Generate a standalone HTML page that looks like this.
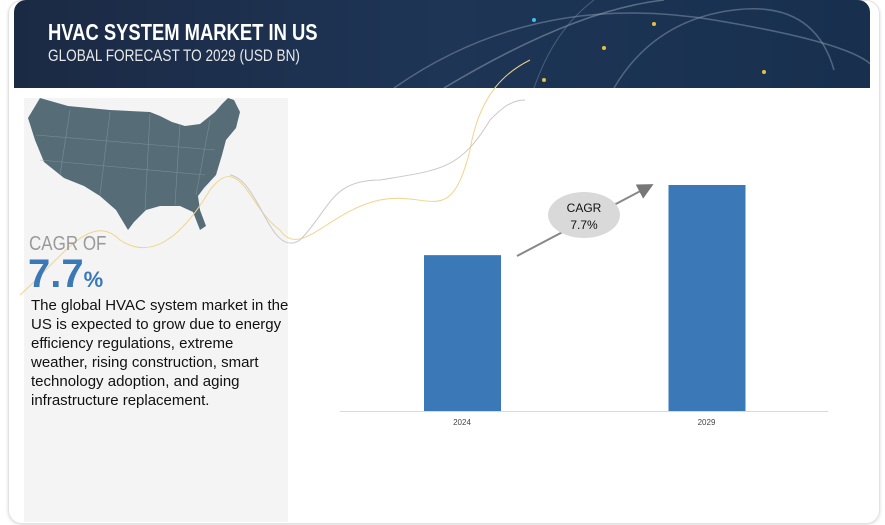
<!DOCTYPE html>
<html><head><meta charset="utf-8"><style>
body{margin:0;width:885px;height:525px;background:#fff;font-family:"Liberation Sans",sans-serif;overflow:hidden;position:relative}
.card{position:absolute;left:8px;top:0;width:870px;height:522px;border:1px solid #e2e2e2;border-radius:14px;box-shadow:0 1px 3px rgba(0,0,0,.15)}
.hdr{position:absolute;left:14px;top:0;width:856px;height:88px;border-radius:12px 12px 0 0;background:linear-gradient(90deg,#1b2a44,#1e3556 50%,#18304e);overflow:hidden}
.t1{position:absolute;left:34px;top:19px;color:#fff;font:bold 23px "Liberation Sans Narrow","Liberation Sans",sans-serif;transform:scaleX(.8);transform-origin:left}
.t2{position:absolute;left:34px;top:46px;color:#e8e8e8;font:17px "Liberation Sans Narrow","Liberation Sans",sans-serif;transform:scaleX(.8);transform-origin:left}
.panel{position:absolute;left:24px;top:98px;width:264px;height:424px;background:#f4f4f4}
.cagr{position:absolute;left:29px;top:233px;color:#9a9a9a;font:20px "Liberation Sans",sans-serif;transform:scaleX(.85);transform-origin:left}
.big{position:absolute;left:28px;top:252px;color:#3a78b8;font:bold 40px "Liberation Sans",sans-serif}
.big span{font-size:22px}
.desc{position:absolute;left:31px;top:296px;width:300px;white-space:nowrap;color:#111;font:15px/19px "Liberation Sans",sans-serif}
</style></head><body>
<div class="card"></div>
<div class="hdr">
<svg width="856" height="88" style="position:absolute;left:0;top:0">
<path d="M380 88 Q520 -10 700 20 T860 80" stroke="#8a9ab0" stroke-width="1.5" fill="none" opacity=".5"/>
<path d="M430 88 Q560 10 650 0" stroke="#9aa8bb" stroke-width="1.5" fill="none" opacity=".5"/>
<path d="M600 88 Q640 20 720 10 T820 70" stroke="#8a9ab0" stroke-width="1.5" fill="none" opacity=".5"/>
<path d="M520 88 Q540 30 580 0" stroke="#7a8aa0" stroke-width="1" fill="none" opacity=".5"/>
<circle cx="530" cy="80" r="2" fill="#e8c040"/><circle cx="590" cy="48" r="2" fill="#e8c040"/><circle cx="640" cy="24" r="2" fill="#e8c040"/><circle cx="750" cy="72" r="2" fill="#e8c040"/><circle cx="520" cy="20" r="2" fill="#40c0f0"/>
</svg>
<div class="t1">HVAC SYSTEM MARKET IN US</div>
<div class="t2">GLOBAL FORECAST TO 2029 (USD BN)</div>
</div>
<div class="panel"></div>
<svg width="885" height="525" style="position:absolute;left:0;top:0">
<path d="M40 98 L68 106 L110 110 L150 112 L160 116 L172 122 L185 126 L200 124 L215 112 L222 104 L228 98 L234 100 L240 112 L236 128 L226 140 L222 155 L216 175 L204 188 L198 196 L200 210 L206 226 L200 230 L193 212 L180 206 L160 206 L146 210 L134 222 L128 230 L116 210 L100 196 L84 186 L64 178 L44 162 L35 140 L28 118 Z" fill="#566d78"/>
<g stroke="#8a9ca4" stroke-width=".6" fill="none" opacity=".7">
<path d="M36 135 L215 150"/><path d="M40 160 L205 175"/><path d="M70 110 L60 175"/><path d="M110 112 L100 195"/><path d="M150 114 L145 210"/><path d="M180 124 L175 205"/><path d="M210 120 L196 195"/>
</g>
<path d="M20 295 C60 260 90 210 120 240 C150 260 180 240 210 190 C240 150 250 210 280 230 C300 260 330 210 380 200 C430 190 450 230 470 150 C480 90 510 70 530 60" stroke="#f0d48a" stroke-width="1" fill="none"/>
<path d="M230 175 C260 180 270 260 300 240 C330 210 330 180 380 180 C440 170 460 170 490 120 C500 110 510 100 525 100" stroke="#c8c8c8" stroke-width="1" fill="none"/>
</svg>
<div class="cagr">CAGR OF</div>
<div class="big">7.7<span>%</span></div>
<div class="desc">The global HVAC system market in the<br>US is expected to grow due to energy<br>efficiency regulations, extreme<br>weather, rising construction, smart<br>technology adoption, and aging<br>infrastructure replacement.</div>
<svg id="chart" width="885" height="525" style="position:absolute;left:0;top:0"></svg>
<script>
const categories=["2024","2029"];
const values=[16.0,23.2];
const NS="http://www.w3.org/2000/svg";
const svg=document.getElementById('chart');
const base=411,k=226/23.2;
const xCenter=i=>462+i*244.5;
const yPos=v=>base-v*k;
const ax=document.createElementNS(NS,'line');
ax.setAttribute('x1',340);ax.setAttribute('x2',828);ax.setAttribute('y1',base+0.5);ax.setAttribute('y2',base+0.5);ax.setAttribute('stroke','#d9d9d9');


svg.appendChild(ax);
categories.forEach((c,i)=>{
 const r=document.createElementNS(NS,'rect');
 r.setAttribute('x',xCenter(i)-38);r.setAttribute('width',77);
 r.setAttribute('y',yPos(values[i]));r.setAttribute('height',base-yPos(values[i]));
 r.setAttribute('fill','#3a78b8');
 
 
 svg.appendChild(r);
 const t=document.createElementNS(NS,'text');
 t.setAttribute('x',xCenter(i));t.setAttribute('y',425);t.setAttribute('text-anchor','middle');
 t.setAttribute('font-size','8');t.setAttribute('font-family','Liberation Sans, sans-serif');t.setAttribute('fill','#444');
 t.textContent=c;
 
 
 svg.appendChild(t);
});
</script>
<svg width="885" height="525" style="position:absolute;left:0;top:0">
<defs><marker id="ar" markerWidth="8" markerHeight="8" refX="6" refY="4" orient="auto"><path d="M0 0 L8 4 L0 8 Z" fill="#777"/></marker></defs>
<line x1="517" y1="256" x2="650" y2="186" stroke="#888" stroke-width="2" marker-end="url(#ar)"/>
<ellipse cx="584" cy="215" rx="36" ry="23" fill="#d9d9d9"/>
<text x="584" y="212" text-anchor="middle" font-family="Liberation Sans, sans-serif" font-size="12" fill="#111">CAGR</text>
<text x="584" y="229" text-anchor="middle" font-family="Liberation Sans, sans-serif" font-size="12" fill="#111">7.7%</text>
</svg>
</body></html>
